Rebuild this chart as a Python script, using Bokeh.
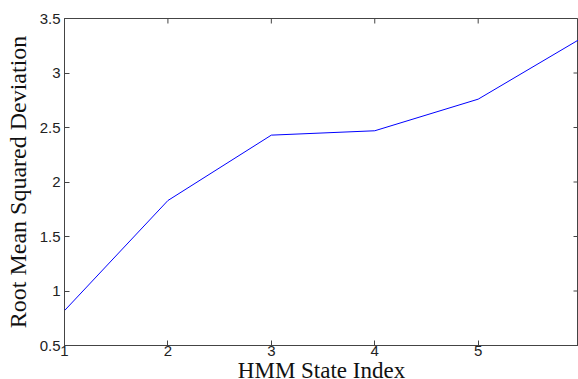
import math
from bokeh.plotting import figure
from bokeh.models import Range1d, FixedTicker, Title
from bokeh.embed import file_html
from bokeh.resources import INLINE

# Data
state_index = [1, 2, 3, 4, 5, 6]
rmsd = [0.82, 1.83, 2.43, 2.47, 2.76, 3.32]
x_ticks = [1, 2, 3, 4, 5]
y_ticks = [0.5, 1, 1.5, 2, 2.5, 3, 3.5]
x_label = "HMM State Index"
y_label = "Root Mean Squared Deviation"

x_rng = Range1d(1, 5.97)
y_rng = Range1d(0.5, 3.5)

p = figure(width=578, height=379, output_backend="svg", toolbar_location=None,
           x_range=x_rng, y_range=y_rng,
           min_border_left=64, min_border_top=18, min_border_right=0, min_border_bottom=0,
           y_axis_label=y_label)

p.line(state_index, rmsd, line_color="#0000ff", line_width=1)

ax_col = "#444444"
# inward ticks on the top and right edges of the box (MATLAB style)
p.ray(x=x_ticks, y=[y_rng.end] * len(x_ticks), length=5, length_units="screen",
      angle=-math.pi / 2, line_color=ax_col, line_width=1)
p.ray(x=[x_rng.end] * len(y_ticks), y=y_ticks, length=5, length_units="screen",
      angle=math.pi, line_color=ax_col, line_width=1)

p.grid.visible = False
p.outline_line_color = ax_col
p.outline_line_width = 1
p.background_fill_color = "white"
p.border_fill_color = "white"

xa = p.xaxis[0]
ya = p.yaxis[0]
for ax in (xa, ya):
    ax.axis_line_color = ax_col
    ax.major_tick_line_color = ax_col
    ax.major_tick_in = 5
    ax.major_tick_out = 0
    ax.minor_tick_line_color = None
    ax.major_label_text_font = "Liberation Sans"
    ax.major_label_text_font_size = "15px"
    ax.major_label_text_color = "#222222"
    ax.axis_label_text_font = "Liberation Serif"
    ax.axis_label_text_font_style = "normal"
    ax.axis_label_text_color = "#111111"

xa.ticker = FixedTicker(ticks=x_ticks)
ya.ticker = FixedTicker(ticks=y_ticks)
xa.major_label_standoff = 0
ya.major_label_standoff = 4
ya.axis_label_standoff = 6
ya.axis_label_text_font_size = "24px"

# x axis title, placed in the panel below the tick labels
p.add_layout(Title(text=x_label, align="center", vertical_align="bottom",
                   standoff=-6, text_font="Liberation Serif", text_font_size="23px",
                   text_font_style="normal", text_color="#111111"), "below")

out = open("out.html", "w")
out.write(file_html(p, INLINE))
out.close()
